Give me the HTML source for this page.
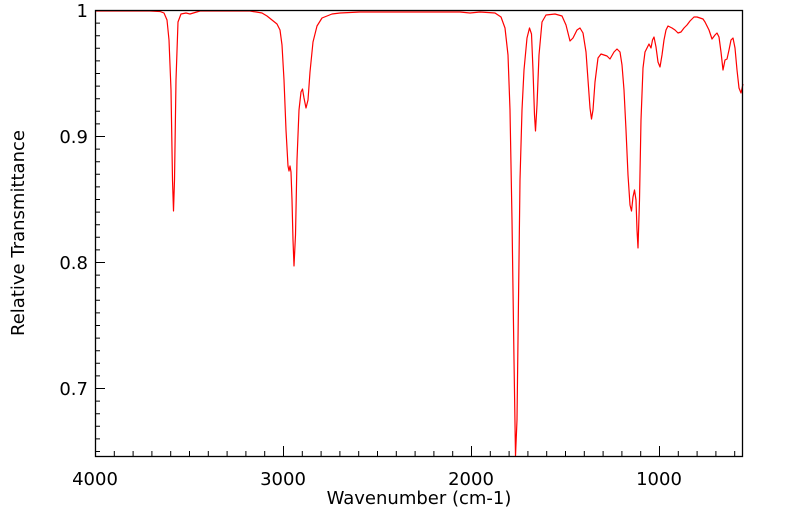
<!DOCTYPE html>
<html><head><meta charset="utf-8"><style>
html,body{margin:0;padding:0;background:#fff;}
svg{display:block;font-family:"DejaVu Sans","Liberation Sans",sans-serif;}
</style></head><body>
<svg width="799" height="516" viewBox="0 0 799 516" xmlns="http://www.w3.org/2000/svg">
<path fill="none" stroke="#000" stroke-width="1" d="M95.5,456v-10M114.3,456v-5M133.1,456v-5M151.9,456v-5M170.7,456v-5M189.5,456v-5M208.3,456v-5M227.1,456v-5M245.9,456v-5M264.7,456v-5M283.5,456v-10M302.3,456v-5M321.1,456v-5M339.9,456v-5M358.7,456v-5M377.5,456v-5M396.3,456v-5M415.1,456v-5M433.9,456v-5M452.7,456v-5M471.5,456v-10M490.3,456v-5M509.1,456v-5M527.9,456v-5M546.7,456v-5M565.5,456v-5M584.3,456v-5M603.1,456v-5M621.9,456v-5M640.7,456v-5M659.5,456v-10M678.3,456v-5M697.1,456v-5M715.9,456v-5M734.7,456v-5
M95,10.5h10M95,23.1h5M95,35.7h5M95,48.3h5M95,60.9h5M95,73.5h5M95,86.1h5M95,98.7h5M95,111.3h5M95,123.9h5M95,136.5h10M95,149.1h5M95,161.7h5M95,174.3h5M95,186.9h5M95,199.5h5M95,212.1h5M95,224.7h5M95,237.3h5M95,249.9h5M95,262.5h10M95,275.1h5M95,287.7h5M95,300.3h5M95,312.9h5M95,325.5h5M95,338.1h5M95,350.7h5M95,363.3h5M95,375.9h5M95,388.5h10M95,401.1h5M95,413.7h5M95,426.3h5M95,438.9h5M95,451.5h5"/>
<path fill="none" stroke="#ff0000" stroke-width="1.2" stroke-linejoin="round" d="M96,11 L150,11 L160,11.5 L164,13 L167,20 L169,40 L171,90 L172.5,180 L173.5,211 L174.5,180 L176,80 L178,22 L181,14 L186,13 L190,14 L200,11 L250,11 L262,13 L267,16 L272,20 L277,24 L280,30 L282,45 L284,80 L286,130 L288,166 L289,171 L290,166 L291,172 L292,200 L293,240 L294,266 L295.5,235 L297,160 L299,110 L301,92 L302.5,89 L304,98 L306,108 L308,100 L310,72 L313,42 L317,26 L322,18 L332,14 L340,13 L360,12 L460,12 L470,13 L480,12 L495,13 L501,17 L505,28 L508,55 L510,110 L512,220 L514,360 L515.5,456 L517,420 L518.5,300 L520,180 L522,110 L524,70 L527,38 L529.5,28 L531.5,34 L533,70 L534.5,115 L535.5,131 L537,105 L539,55 L542,22 L546,15 L555,14 L562,16 L566,25 L570,41 L573,38 L577,30 L580,28 L583,33 L586,52 L588,80 L590,108 L591.5,119 L593,110 L595,82 L598,58 L601,54 L607,56 L610,59 L614,52 L617,49 L620,52 L622,65 L624,90 L626,130 L628,175 L630,205 L631.5,211 L633,197 L634.5,190 L636,200 L637,230 L638,248 L639.5,200 L641,120 L643,68 L645,52 L647,48 L649,44 L651,48 L652.5,40 L654,37 L656,47 L658,62 L660,67 L662,55 L664,40 L666,30 L668,26 L672,28 L675,30 L678,33 L681,32 L684,28 L687,25 L690,21 L694,17 L697,17 L700,18 L703,19 L705,22 L709,30 L712,39 L715,35 L717,33 L719,37 L721,52 L723,70 L725,60 L727,59 L729,50 L731,40 L733,38 L735,48 L737,70 L739,88 L741,93 L743,84"/>
<rect x="95.5" y="10.5" width="647" height="446" fill="none" stroke="#000" stroke-width="1.3"/>
<g font-size="18" fill="#000">
<text x="88" y="17" text-anchor="end">1</text>
<text x="88" y="143" text-anchor="end">0.9</text>
<text x="88" y="269" text-anchor="end">0.8</text>
<text x="88" y="395" text-anchor="end">0.7</text>
<text x="95" y="485" text-anchor="middle">4000</text>
<text x="283" y="485" text-anchor="middle">3000</text>
<text x="471" y="485" text-anchor="middle">2000</text>
<text x="659" y="485" text-anchor="middle">1000</text>
<text x="419" y="504" text-anchor="middle">Wavenumber (cm-1)</text>
<text transform="translate(24,233) rotate(-90)" text-anchor="middle">Relative Transmittance</text>
</g>
</svg>
</body></html>
